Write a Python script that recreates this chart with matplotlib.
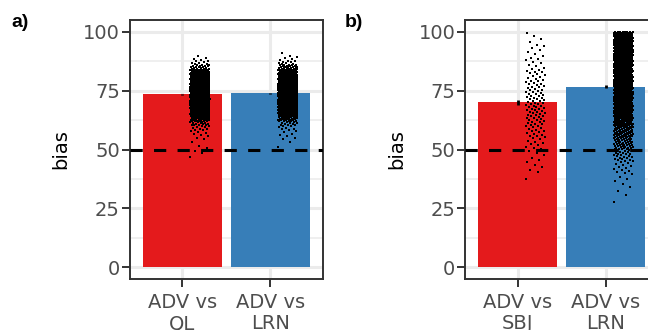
import numpy as np
import matplotlib
matplotlib.use("Agg")
import matplotlib.pyplot as plt
from matplotlib.path import Path

# ---------------- data ----------------
categories_a = ["ADV vs\nQL", "ADV vs\nLRN"]
categories_b = ["ADV vs\nSBJ", "ADV vs\nLRN"]
bias_a = [73.4, 73.8]
bias_b = [70.0, 76.7]
se_a = [0.3, 0.3]
se_b = [1.2, 0.5]
bar_colors = ["#E41A1C", "#377EB8"]
chance_level = 50

# individual points: histogram of bias values (bin lower edge, bin width, counts)
bins_a_ql = list(range(46, 90, 2))
counts_a_ql = [1, 2, 2, 1, 3, 5, 8, 15, 30, 50, 75, 95, 110, 115, 110, 95, 75, 55, 35, 18, 8, 3]
bins_a_lrn = list(range(50, 92, 2))
counts_a_lrn = [1, 1, 3, 4, 6, 12, 25, 45, 70, 95, 110, 118, 115, 100, 80, 60, 40, 22, 10, 4, 1]
bins_b_sbj = list(range(35, 100, 5))
counts_b_sbj = [1, 5, 5, 10, 14, 18, 20, 18, 16, 12, 8, 6, 4]
bins_b_lrn = list(range(25, 100, 5))
counts_b_lrn = [1, 3, 5, 12, 25, 45, 60, 75, 85, 95, 100, 105, 110, 115, 125]

W, H, DPI = 648, 330, 100
fig = plt.figure(figsize=(W / DPI, H / DPI), dpi=DPI)
plt.rcParams['font.family'] = ['DejaVu Sans']

GRID = "#EBEBEB"
DARK = "#333333"
TXT = "#4D4D4D"

# wide, flat dot marker
dot = Path([(-1, -0.5), (1, -0.5), (1, 0.5), (-1, 0.5), (-1, -0.5)],
           [Path.MOVETO, Path.LINETO, Path.LINETO, Path.LINETO, Path.CLOSEPOLY])
PHI = 0.6180339887


def expand(bins, counts, width):
    ys = []
    for lo, n in zip(bins, counts):
        for k in range(n):
            ys.append(lo + (k + 0.5) / n * width)
    return np.array(ys)


def px_axes(left, top, right, bottom):
    return [left / W, 1 - bottom / H, (right - left) / W, (bottom - top) / H]


def panel(rect, cats, bars, ses, clouds, tag, tag_x):
    ax = fig.add_axes(rect)
    x = np.arange(1, len(cats) + 1)
    ax.set_xlim(0.4, 2.6)
    ax.set_ylim(-5, 105)
    ax.set_yticks([0, 25, 50, 75, 100])
    ax.set_yticks([12.5, 37.5, 62.5, 87.5], minor=True)
    ax.set_xticks(x)
    ax.set_xticklabels(cats, fontsize=14, color=TXT, linespacing=1.15)
    ax.tick_params(axis='y', labelsize=14, labelcolor=TXT, pad=1.5)
    ax.tick_params(axis='x', pad=4.4)
    ax.grid(True, which='major', color=GRID, lw=2.2, zorder=0)
    ax.grid(True, which='minor', axis='y', color=GRID, lw=1.1, zorder=0)
    ax.set_axisbelow(True)
    ax.tick_params(which='major', length=5.5, width=1.4, color=DARK)
    ax.tick_params(which='minor', length=0)
    for s in ax.spines.values():
        s.set_color(DARK)
        s.set_linewidth(1.4)
    ax.bar(x, bars, width=0.9, color=bar_colors, zorder=2)
    ax.errorbar(x, bars, yerr=ses, fmt='none', ecolor='black', elinewidth=2.0,
                capsize=0, zorder=3)
    for xi, (bins, counts, bw) in zip(x, clouds):
        ys = expand(bins, counts, bw)
        n = len(ys)
        jit = ((np.arange(n) * PHI) % 1.0) * 2 - 1
        xs = xi + 0.2 + 0.11 * jit
        ax.plot(xs, ys, linestyle='none', marker=dot, ms=1.7, mew=0,
                color='black', zorder=4)
    ax.axhline(chance_level, color='black', lw=2.2, dashes=(4, 3.7), zorder=5)
    ax.set_ylabel("bias", fontsize=14, color='black', labelpad=9)
    fig.text(tag_x / W, 1 - 14 / H, tag, fontsize=14, fontweight='bold',
             family=['Liberation Sans', 'DejaVu Sans'], va='top', ha='left')
    return ax


panel(px_axes(129.5, 20, 323, 279), categories_a, bias_a, se_a,
      [(bins_a_ql, counts_a_ql, 2), (bins_a_lrn, counts_a_lrn, 2)], "a)", 11.5)
panel(px_axes(465, 20, 658.5, 279), categories_b, bias_b, se_b,
      [(bins_b_sbj, counts_b_sbj, 5), (bins_b_lrn, counts_b_lrn, 5)], "b)", 345)

fig.savefig("out.png", dpi=DPI)
